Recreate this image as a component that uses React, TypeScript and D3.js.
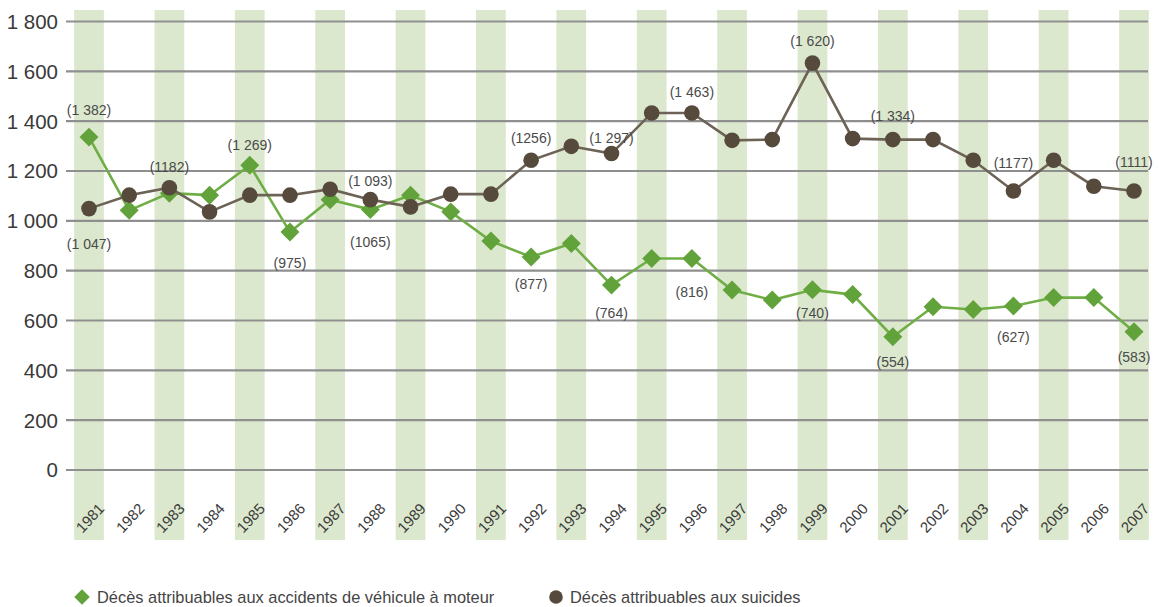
import React, { useEffect } from 'react';
import * as d3 from 'd3';

// Années
const years = [
  1981, 1982, 1983, 1984, 1985, 1986, 1987, 1988, 1989, 1990, 1991, 1992, 1993, 1994,
  1995, 1996, 1997, 1998, 1999, 2000, 2001, 2002, 2003, 2004, 2005, 2006, 2007,
];

// Décès attribuables aux accidents de véhicule à moteur
const vehicule = [
  1336, 1042, 1111, 1103, 1223, 955, 1085, 1045, 1103, 1036, 919, 855, 909, 742,
  849, 849, 722, 682, 723, 704, 535, 655, 644, 658, 692, 692, 555,
];

// Décès attribuables aux suicides
const suicides = [
  1049, 1103, 1133, 1036, 1103, 1103, 1127, 1085, 1056, 1107, 1107, 1243, 1299, 1270,
  1433, 1433, 1323, 1326, 1633, 1330, 1326, 1326, 1243, 1120, 1243, 1139, 1120,
];

const yTicks = [0, 200, 400, 600, 800, 1000, 1200, 1400, 1600, 1800];

// étiquettes de valeurs : série, année, texte, décalage vertical (px)
const annotations: { s: 'v' | 's'; year: number; text: string; dy: number }[] = [
  { s: 'v', year: 1981, text: '(1 382)', dy: -27 },
  { s: 's', year: 1981, text: '(1 047)', dy: 35 },
  { s: 's', year: 1983, text: '(1182)', dy: -21 },
  { s: 'v', year: 1985, text: '(1 269)', dy: -20 },
  { s: 'v', year: 1986, text: '(975)', dy: 31 },
  { s: 's', year: 1988, text: '(1 093)', dy: -19 },
  { s: 'v', year: 1988, text: '(1065)', dy: 32 },
  { s: 's', year: 1992, text: '(1256)', dy: -22 },
  { s: 'v', year: 1992, text: '(877)', dy: 27 },
  { s: 's', year: 1994, text: '(1 297)', dy: -15 },
  { s: 'v', year: 1994, text: '(764)', dy: 28 },
  { s: 's', year: 1996, text: '(1 463)', dy: -21 },
  { s: 'v', year: 1996, text: '(816)', dy: 34 },
  { s: 's', year: 1999, text: '(1 620)', dy: -22 },
  { s: 'v', year: 1999, text: '(740)', dy: 23 },
  { s: 's', year: 2001, text: '(1 334)', dy: -24 },
  { s: 'v', year: 2001, text: '(554)', dy: 25 },
  { s: 's', year: 2004, text: '(1177)', dy: -28 },
  { s: 'v', year: 2004, text: '(627)', dy: 31 },
  { s: 's', year: 2007, text: '(1111)', dy: -29 },
  { s: 'v', year: 2007, text: '(583)', dy: 25 },
];

const legendLabels = [
  'Décès attribuables aux accidents de véhicule à moteur',
  'Décès attribuables aux suicides',
];

const W = 1162;
const H = 607;
const GREEN = '#62a23a';
const GREEN_LINE = '#6fae45';
const BROWN = '#564a3c';
const BROWN_LINE = '#6c6255';
const FONT = "'Liberation Sans Narrow', 'Liberation Sans', Arial, sans-serif";

export default function App() {
  useEffect(() => {
    document.body.style.margin = '0';
  }, []);

  const x = d3.scalePoint<number>().domain(years).range([89, 1134]);
  const y = d3.scaleLinear().domain([0, 1800]).range([470, 21.5]);
  const bandW = x.step() * 0.74;

  const line = d3.line<number>()
    .x((_, i) => x(years[i])!)
    .y(d => y(d));

  const diamond = d3.symbol().type(d3.symbolSquare).size(180)();

  const valueOf = (s: 'v' | 's', year: number) =>
    (s === 'v' ? vehicule : suicides)[years.indexOf(year)];

  return (
    <svg width={W} height={H} style={{ display: 'block' }} fontFamily={FONT}>
      <rect width={W} height={H} fill="#fff" />

      {/* bandes vertes des années impaires */}
      {years.filter((_, i) => i % 2 === 0).map(yr => (
        <rect key={yr} x={x(yr)! - bandW / 2} y={10} width={bandW} height={530} fill="#dce8cd" />
      ))}

      {/* grille */}
      {yTicks.map(t => (
        <g key={t}>
          <line x1={66} x2={1148} y1={y(t)} y2={y(t)} stroke="#8f8f8f" strokeWidth={2.2} />
          <text x={58} y={y(t)} dy="0.36em" textAnchor="end" fontSize={20.5} fill="#3a3a3a">
            {d3.format(',')(t).replace(',', ' ')}
          </text>
        </g>
      ))}

      {/* étiquettes des années */}
      {years.map(yr => (
        <text
          key={yr}
          transform={`translate(${x(yr)! + 1},${518}) rotate(-47)`}
          textAnchor="middle"
          dy="0.35em"
          fontSize={15}
          fill="#3a3a3a"
        >
          {yr}
        </text>
      ))}

      {/* accidents de véhicule */}
      <path d={line(vehicule)!} fill="none" stroke={GREEN_LINE} strokeWidth={2.6} />
      {vehicule.map((v, i) => (
        <path key={i} d={diamond} transform={`translate(${x(years[i])},${y(v)}) rotate(45)`} fill={GREEN} />
      ))}

      {/* suicides */}
      <path d={line(suicides)!} fill="none" stroke={BROWN_LINE} strokeWidth={2.6} />
      {suicides.map((v, i) => (
        <circle key={i} cx={x(years[i])} cy={y(v)} r={7.8} fill={BROWN} />
      ))}

      {/* étiquettes de valeurs */}
      {annotations.map((a, i) => (
        <text
          key={i}
          x={x(a.year)}
          y={y(valueOf(a.s, a.year)) + a.dy}
          dy="0.35em"
          textAnchor="middle"
          fontSize={14}
          fill="#4a4a4a"
        >
          {a.text}
        </text>
      ))}

      {/* légende */}
      <g transform="translate(82,597)">
        <path d={d3.symbol().type(d3.symbolSquare).size(120)()!} transform="rotate(45)" fill={GREEN} />
        <text x={15} dy="0.35em" fontSize={16.4} fill="#444">{legendLabels[0]}</text>
      </g>
      <g transform="translate(556,597)">
        <circle r={6.8} fill={BROWN} />
        <text x={14} dy="0.35em" fontSize={16.4} fill="#444">{legendLabels[1]}</text>
      </g>
    </svg>
  );
}
